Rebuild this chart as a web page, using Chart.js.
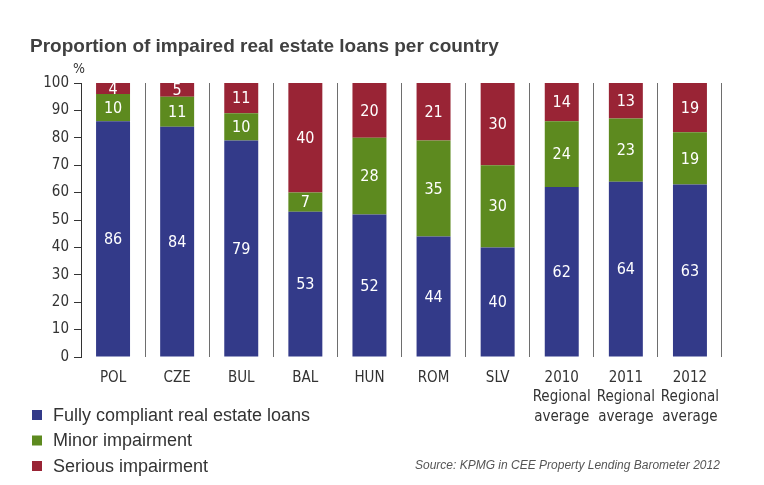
<!DOCTYPE html>
<html>
<head>
<meta charset="utf-8">
<script src="https://cdn.jsdelivr.net/npm/chart.js@4.4.0/dist/chart.umd.min.js"></script>
<style>
  html, body { margin: 0; padding: 0; background: #fff; }
  #wrap { position: relative; width: 764px; height: 485px; }
</style>
</head>
<body>
<div id="wrap"><canvas id="chart" width="764" height="485"></canvas></div>
<script>
const categories = ['POL', 'CZE', 'BUL', 'BAL', 'HUN', 'ROM', 'SLV',
    ['2010', 'Regional', 'average'], ['2011', 'Regional', 'average'], ['2012', 'Regional', 'average']];
const compliant = [86, 84, 79, 53, 52, 44, 40, 62, 64, 63];
const minor = [10, 11, 10, 7, 28, 35, 30, 24, 23, 19];
const serious = [4, 5, 11, 40, 20, 21, 30, 14, 13, 19];
const seriesNames = ['Fully compliant real estate loans', 'Minor impairment', 'Serious impairment'];
const colors = ['#333a89', '#5d8a1f', '#992435'];

const narrow = '"Liberation Sans Narrow", "DejaVu Sans Condensed", sans-serif';

const extras = {
    id: 'extras',
    afterDatasetsDraw(chart) {
        const ctx = chart.ctx;
        ctx.save();
        // values inside the segments
        ctx.fillStyle = '#fff';
        ctx.font = '16px ' + narrow;
        ctx.textAlign = 'center';
        ctx.textBaseline = 'middle';
        chart.data.datasets.forEach((ds, i) => {
            chart.getDatasetMeta(i).data.forEach((bar, j) => {
                const top = Math.max(bar.y, chart.chartArea.top);
                ctx.fillText(ds.data[j], bar.x, (top + bar.base) / 2 + 1);
            });
        });

        // title
        ctx.fillStyle = '#404040';
        ctx.textAlign = 'left';
        ctx.textBaseline = 'alphabetic';
        ctx.font = 'bold 19px "Liberation Sans", Arial, sans-serif';
        ctx.fillText('Proportion of impaired real estate loans per country', 30, 52);

        // % unit
        ctx.font = '14px ' + narrow;
        ctx.fillStyle = '#333';
        ctx.fillText('%', 73, 73);

        // legend
        ctx.font = '18px "Liberation Sans", Arial, sans-serif';
        ctx.textBaseline = 'middle';
        seriesNames.forEach((name, i) => {
            const y = 415 + i * 25.5;
            ctx.fillStyle = colors[i];
            ctx.fillRect(32, y - 5, 10, 10);
            ctx.fillStyle = '#333';
            ctx.fillText(name, 53, y + 1);
        });

        // source
        ctx.font = 'italic 12px "Liberation Sans", Arial, sans-serif';
        ctx.fillStyle = '#555';
        ctx.fillText('Source: KPMG in CEE Property Lending Barometer 2012', 415, 466);
        ctx.restore();
    }
};

new Chart(document.getElementById('chart'), {
    type: 'bar',
    data: {
        labels: categories,
        datasets: [
            { label: seriesNames[0], data: compliant, backgroundColor: colors[0] },
            { label: seriesNames[1], data: minor, backgroundColor: colors[1] },
            { label: seriesNames[2], data: serious, backgroundColor: colors[2] }
        ]
    },
    options: {
        responsive: false,
        animation: false,
        layout: { padding: { top: 83, right: 42, left: 0, bottom: 0 } },
        plugins: {
            legend: { display: false },
            tooltip: { enabled: false }
        },
        datasets: { bar: { categoryPercentage: 1, barPercentage: 0.53 } },
        scales: {
            x: {
                stacked: true,
                afterFit: s => { s.height = 128; },
                grid: { offset: true, drawTicks: false, color: '#6e6e6e', lineWidth: 1 },
                border: { display: false },
                ticks: {
                    color: '#333',
                    font: { family: narrow, size: 15, lineHeight: 1.3 },
                    padding: 11,
                    maxRotation: 0
                }
            },
            y: {
                stacked: true,
                min: 0,
                max: 100,
                afterFit: s => { s.width = 81; },
                grid: { drawOnChartArea: false, tickLength: 7, color: '#333' },
                border: { color: '#333' },
                ticks: {
                    stepSize: 10,
                    color: '#333',
                    font: { family: narrow, size: 15 },
                    padding: 5
                }
            }
        }
    },
    plugins: [extras]
});
</script>
</body>
</html>
